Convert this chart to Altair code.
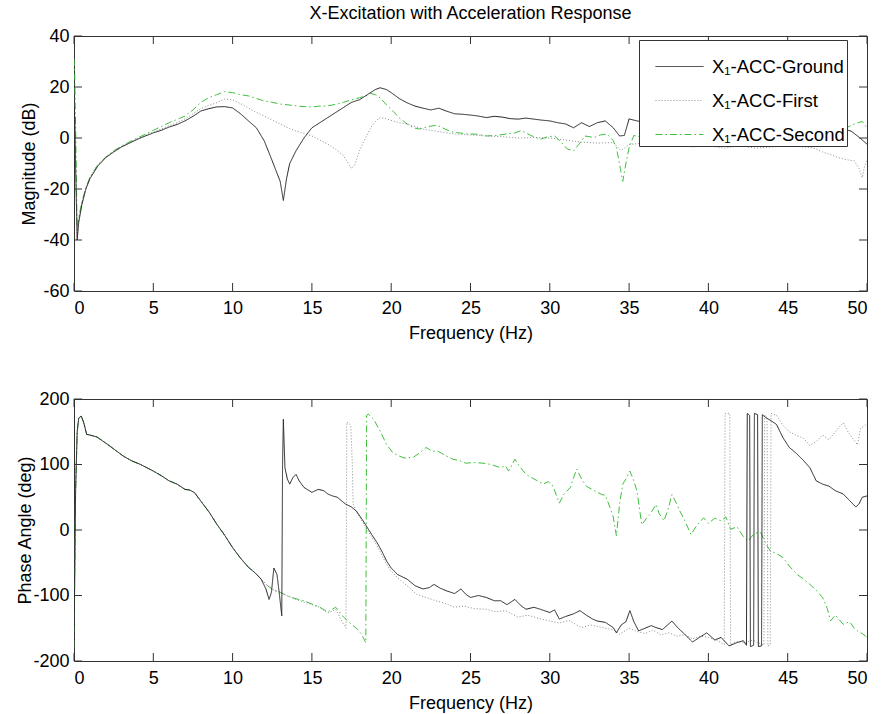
import altair as alt
import pandas as pd

SERIES = ["X₁-ACC-Ground", "X₁-ACC-First", "X₁-ACC-Second"]
COLORS = ["#222222", "#8a8a8a", "#3fbf3f"]
DASHES = [[1, 0], [1, 2], [7, 3, 1.5, 3]]

X_TICKS = [0, 5, 10, 15, 20, 25, 30, 35, 40, 45, 50]
MAG_TICKS = [-60, -40, -20, 0, 20, 40]
PH_TICKS = [-200, -100, 0, 100, 200]

# ---------------- Magnitude (dB) ----------------
mag_ground_f = [0.0, 0.05, 0.1, 0.2, 0.3, 0.5, 0.75, 1.0, 1.5, 2.0, 2.5, 3.0, 3.5, 4.0, 4.5, 5.0, 5.5, 6.0, 6.5, 7.0,
                7.5, 8.0, 8.5, 9.0, 9.5, 10.0, 10.5, 11.0, 11.5, 12.0, 12.5, 13.0, 13.2, 13.4, 13.6, 14.0, 14.5, 15.0,
                15.5, 16.0, 16.5, 17.0, 17.5, 18.0, 18.5, 19.0, 19.3, 19.7, 20.0, 20.5, 21.0, 21.5, 22.0, 22.5, 23.0,
                23.5, 24.0, 24.5, 25.0, 25.5, 26.0, 26.5, 27.0, 27.5, 28.0, 28.5, 29.0, 29.5, 30.0, 30.5, 31.0, 31.5,
                32.0, 32.5, 33.0, 33.5, 34.0, 34.4, 34.7, 35.0, 35.3, 36.0, 37.0, 38.0, 39.0, 40.0, 41.0, 42.0, 43.0,
                44.0, 45.0, 46.0, 47.0, 48.0, 48.5, 49.0, 49.5, 50.0]
mag_ground_v = [12, 8, -10, -40, -33, -26, -20, -16, -11, -7.7, -5.5, -3.5, -2, -0.5, 0.8, 2, 3, 4.3, 5.3, 6.7,
                8.5, 10.6, 11.5, 12.2, 12.3, 11.8, 9.5, 6.7, 4, -1.2, -9, -17, -24.5, -16, -10, -5, 0, 4,
                6, 8, 10, 12, 14, 15, 17, 19, 19.7, 19, 17.8, 15.5, 13.8, 12.5, 11.7, 11, 11.7,
                10.5, 9.5, 9.3, 9, 8.6, 8, 8.5, 8.2, 7.6, 7.4, 7.8, 7.4, 7, 6.7, 6, 5.5, 4,
                6, 4.5, 6, 6.7, 4, 0.8, 1, 7.5, 7, 6, 5.5, 6, 5, 5.5, 4.5, 5, 4,
                4.5, 4, 4.5, 4, 3.5, 3.5, 2.7, 0.3, -2.4]

mag_first_f = [0.0, 0.05, 0.1, 0.2, 0.3, 0.5, 0.75, 1.0, 1.5, 2.0, 2.5, 3.0, 3.5, 4.0, 4.5, 5.0, 5.5, 6.0, 6.5, 7.0,
               7.5, 8.0, 8.5, 9.0, 9.5, 10.0, 10.5, 11.0, 11.5, 12.0, 12.5, 13.0, 13.5, 14.0, 14.5, 15.0, 15.5, 16.0,
               16.5, 17.0, 17.3, 17.5, 17.7, 18.0, 18.3, 18.7, 19.0, 19.3, 19.7, 20.1, 20.5, 21.0, 21.5, 22.0, 23.0,
               24.0, 25.0, 26.0, 27.0, 28.0, 29.0, 30.0, 31.0, 32.0, 33.0, 34.0, 34.5, 35.0, 36.0, 37.0, 38.0, 39.0,
               40.0, 41.0, 42.0, 43.0, 44.0, 45.0, 46.0, 46.6, 47.2, 47.7, 48.2, 48.7, 49.2, 49.5, 49.7, 49.85, 50.0]
mag_first_v = [10, 5, -12, -39, -32, -25.5, -19.5, -15.5, -10.5, -7.5, -5.2, -3.3, -1.8, -0.3, 1, 2.3, 3.5, 4.8, 6, 7.5,
               9.5, 11.5, 12.8, 13.8, 15.3, 15, 13.5, 11.8, 10, 8.6, 7, 5.5, 4, 2.7, 1.8, 0.8, -0.8, -2.4,
               -4.5, -7, -10, -12, -10.5, -5, -1, 4, 6.5, 8, 7.5, 6.7, 6, 5.5, 4.5, 3.5, 2.5,
               1.6, 1.2, 0.8, 0.5, 0, 0.2, 0, -0.8, -1.6, -2, -1.8, -5, -2.5, -2, -3, -2.5, -3.5,
               -3, -4, -3, -4, -3.5, -3, -3.5, -3.8, -5.5, -6.5, -7.7, -8.5, -9, -12, -15.6, -11, -9]

mag_second_f = [0.0, 0.05, 0.1, 0.2, 0.3, 0.5, 0.75, 1.0, 1.5, 2.0, 2.5, 3.0, 3.5, 4.0, 4.5, 5.0, 5.5, 6.0, 6.5, 7.0,
                7.5, 8.0, 8.5, 9.0, 9.5, 10.0, 10.5, 11.0, 11.5, 12.0, 12.5, 13.0, 13.5, 14.0, 14.5, 15.0, 15.5, 16.0,
                16.5, 17.0, 17.5, 18.0, 18.4, 18.7, 19.0, 19.3, 19.7, 20.1, 20.5, 21.0, 21.4, 21.8, 22.3, 22.9, 23.4,
                23.8, 24.3, 24.8, 25.4, 26.0, 26.6, 27.3, 27.8, 28.2, 28.8, 29.4, 29.9, 30.3, 30.7, 31.1, 31.5, 31.9,
                32.2, 32.8, 33.2, 33.6, 34.0, 34.2, 34.45, 34.6, 34.8, 35.0, 35.3, 36.0, 37.0, 38.0, 39.0, 40.0, 41.0,
                42.0, 43.0, 44.0, 45.0, 46.0, 47.0, 48.0, 48.7, 49.2, 49.7, 50.0]
mag_second_v = [31, 25, 5, -36, -31, -25, -19.5, -15.5, -10.5, -7.5, -5, -3.2, -1.5, 0, 1.5, 3, 4.5, 6, 7.3, 8.6,
                11, 14, 15.8, 17, 18.2, 17.8, 17, 16.5, 15.5, 14.5, 14, 13.3, 13, 12.6, 12.3, 12.2, 12.5, 12.6,
                13.2, 14, 15, 15.8, 16.5, 17.5, 17, 15.8, 13, 10.6, 8, 5.5, 4, 3.5, 4.5, 5, 3.5,
                2.4, 2, 1.6, 1.5, 0.8, 1, 1.6, 2, 2.9, 1, -0.5, 0.5, 0.8, -1.5, -4.3, -5, -2,
                0.8, 0.2, 1.2, 1.6, -1, -3.8, -12, -17, -10, -3.8, 1, 0, 1, 0.5, 1, 0, 1,
                0.5, 1.5, 1, 2, 1.5, 2.5, 3, 4, 5.5, 6.5, 4]

# ---------------- Phase (deg) ----------------
ph_ground_f = [0.0, 0.05, 0.1, 0.2, 0.3, 0.45, 0.6, 0.8, 1.0, 1.45, 1.8, 2.1, 2.6, 3.1, 3.6, 4.2, 4.6, 5.0, 5.5, 6.0,
               6.5, 7.0, 7.3, 7.6, 8.0, 8.5, 9.0, 9.5, 10.0, 10.5, 11.0, 11.4, 11.8, 12.1, 12.3, 12.45, 12.6, 12.8,
               12.95, 13.1, 13.15, 13.2, 13.3, 13.45, 13.6, 13.8, 14.0, 14.2, 14.5, 15.0, 15.4, 15.75, 16.0, 16.3,
               16.6, 17.1, 17.5, 17.8, 18.2, 18.5, 18.8, 19.1, 19.4, 19.7, 20.0, 20.4, 21.0, 21.5, 22.0, 22.4, 22.7,
               23.1, 23.5, 24.0, 24.4, 24.7, 25.0, 25.5, 26.0, 26.5, 26.9, 27.3, 27.8, 28.2, 28.5, 29.0, 29.4, 30.0,
               30.3, 30.6, 31.0, 31.5, 31.9, 32.3, 32.7, 33.0, 33.5, 34.0, 34.2, 34.5, 34.8, 35.05, 35.3, 35.6, 36.0,
               36.4, 36.7, 37.1, 37.7, 38.1, 38.5, 39.0, 39.5, 39.9, 40.4, 40.8, 41.3, 41.8, 42.2, 42.4, 42.45, 42.6,
               42.65, 42.85, 42.9, 43.1, 43.15, 43.35, 43.4, 43.6, 44.0, 44.3, 44.7, 45.1, 45.5, 46.0, 46.4, 46.8,
               47.2, 47.6, 48.0, 48.5, 48.9, 49.3, 49.5, 49.7, 50.0]
ph_ground_v = [-179, -60, 60, 150, 171, 174, 165, 146, 145, 142, 136, 131, 122, 113, 106, 100, 95, 90, 83, 75,
               70, 62, 61, 57, 44, 28, 9, -8, -27, -43, -57, -65, -75, -90, -106, -95, -58, -68,
               -98, -131, 100, 169, 95, 78, 70, 80, 85, 75, 65, 57.5, 62, 60, 55, 52,
               50, 40, 35, 29, 15, 3.5, -8, -19, -32, -47, -58, -68, -75, -85, -90, -88, -83,
               -89, -93, -97, -90, -98, -103, -100, -103, -108, -108, -114, -106, -116, -121, -118, -121, -126,
               -122, -136, -132, -128, -123, -130, -136, -139, -141, -149, -157, -145, -140, -123, -140, -154, -150,
               -146, -149, -152, -139, -150, -159, -171, -163, -157, -168, -164, -177, -172, -169, -176, 178, 175,
               -178, -176, 178, 176, -178, -177, 176, 172, 166, 161, 141, 126, 118, 106, 95, 75,
               70, 67, 60, 55, 45, 35, 40, 50, 52]

ph_first_f = [0.0, 0.05, 0.1, 0.2, 0.3, 0.45, 0.6, 0.8, 1.0, 1.45, 1.8, 2.1, 2.6, 3.1, 3.6, 4.2, 4.6, 5.0, 5.5, 6.0,
              6.5, 7.0, 7.3, 7.6, 8.0, 8.5, 9.0, 9.5, 10.0, 10.5, 11.0, 11.4, 11.8, 12.2, 12.6, 13.0, 13.4, 14.0,
              14.5, 15.0, 15.5, 16.0, 16.5, 16.8, 17.0, 17.15, 17.2, 17.45, 17.55, 17.6, 17.8, 18.2, 18.5, 18.8,
              19.1, 19.4, 19.7, 20.0, 20.4, 21.0, 21.6, 22.2, 22.8, 23.4, 24.0, 24.6, 25.2, 26.0, 26.6, 27.2, 28.0,
              28.6, 29.3, 30.0, 30.6, 31.2, 32.0, 32.6, 33.5, 34.0, 34.4, 35.0, 35.5, 36.0, 36.5, 37.0, 37.5, 38.0,
              38.5, 39.0, 39.5, 40.0, 40.5, 41.0, 41.05, 41.35, 41.4, 41.8, 42.3, 42.8, 43.2, 43.5, 43.55, 43.7,
              43.75, 43.9, 43.95, 44.3, 44.7, 45.1, 45.5, 46.0, 46.4, 46.8, 47.2, 47.6, 48.0, 48.5, 48.8, 49.1,
              49.4, 49.6, 50.0]
ph_first_v = [-179, -60, 60, 150, 171, 174, 165, 146, 145, 142, 136, 131, 122, 113, 106, 100, 95, 90, 83, 75,
              70, 62, 61, 57, 44, 28, 9, -8, -27, -43, -57, -65, -75, -85, -92, -95, -100, -106,
              -110, -114, -118, -127, -121, -135, -144, -150, 165, 160, 100, 40, 28, 12, 0, -12,
              -24, -38, -52, -63, -73, -85, -98, -103, -108, -112, -118, -116, -120, -121, -125, -123, -133,
              -130, -135, -139, -142, -138, -149, -145, -150, -152, -159, -150, -155, -158, -153, -160, -157, -162,
              -160, -166, -162, -164, -168, -175, 178, 178, -175, -170, -172, -168, -173, -176, 176, 172,
              -177, -176, 178, 175, 160, 150, 145, 140, 129, 135, 145, 138, 150, 164, 150, 140,
              130, 155, 162]

ph_second_f = [0.0, 0.05, 0.1, 0.2, 0.3, 0.45, 0.6, 0.8, 1.0, 1.45, 1.8, 2.1, 2.6, 3.1, 3.6, 4.2, 4.6, 5.0, 5.5, 6.0,
               6.5, 7.0, 7.3, 7.6, 8.0, 8.5, 9.0, 9.5, 10.0, 10.5, 11.0, 11.4, 11.8, 12.2, 12.6, 13.0, 13.4, 14.0,
               14.5, 15.0, 15.5, 16.0, 16.5, 17.0, 17.5, 17.8, 18.1, 18.4, 18.45, 18.55, 18.9, 19.3, 19.7, 20.1,
               20.5, 20.8, 21.4, 21.8, 22.2, 22.6, 22.9, 23.4, 23.9, 24.3, 24.7, 25.2, 25.8, 26.3, 26.9, 27.2, 27.4,
               27.8, 28.1, 28.5, 29.0, 29.6, 29.9, 30.2, 30.6, 30.9, 31.3, 31.5, 31.7, 32.0, 32.3, 32.8, 33.3, 33.5,
               33.8, 34.0, 34.2, 34.4, 34.6, 34.85, 35.05, 35.3, 35.5, 35.8, 36.1, 36.3, 36.7, 36.9, 37.2, 37.5,
               37.7, 38.0, 38.2, 38.5, 38.9, 39.3, 39.7, 40.0, 40.4, 40.8, 41.1, 41.4, 41.8, 42.2, 42.5, 42.9, 43.3,
               43.6, 43.9, 44.3, 44.7, 45.1, 45.6, 46.0, 46.4, 46.8, 47.2, 47.5, 47.7, 48.0, 48.5, 48.9, 49.2, 49.4,
               49.7, 50.0]
ph_second_v = [-179, -60, 60, 150, 171, 174, 165, 146, 145, 142, 136, 131, 122, 113, 106, 100, 95, 90, 83, 75,
               70, 62, 61, 57, 44, 28, 9, -8, -27, -43, -57, -65, -75, -85, -92, -95, -100, -105,
               -108, -113, -118, -125, -118, -133, -144, -150, -158, -172, 175, 177, 169, 151, 131, 118,
               113, 110, 111, 118, 126, 120, 121, 114, 108, 106, 102, 103, 102, 100, 95, 98, 90,
               108, 97, 85, 78, 70, 74, 67, 41, 55, 65, 80, 93, 78, 67, 60, 54, 53,
               34, 20, -9, 40, 70, 80, 90, 75, 59, 8, 18, 23, 39, 25, 14, 35,
               54, 40, 29, 15, -7, 8, 18.6, 10, 18, 14, 20, 1, 5, -10, -17, -5, -4,
               -20, -32, -36, -42, -55, -68, -75, -83, -92, -103, -120, -139, -130, -144, -140, -150, -154,
               -158, -164]


def frame(pairs):
    rows = []
    for name, fs, vs in pairs:
        for f, v in zip(fs, vs):
            rows.append({"series": name, "f": f, "v": v})
    return pd.DataFrame(rows)


mag_df = frame([(SERIES[2], mag_second_f, mag_second_v), (SERIES[1], mag_first_f, mag_first_v),
                (SERIES[0], mag_ground_f, mag_ground_v)])
ph_df = frame([(SERIES[2], ph_second_f, ph_second_v), (SERIES[1], ph_first_f, ph_first_v),
               (SERIES[0], ph_ground_f, ph_ground_v)])

W = 793
FONT = "Liberation Sans"
FS = 18
AX = "#333333"


def panel(df, yticks, ylabel, height, show_legend, title_pad):
    xs = alt.Scale(domain=[0, 50], nice=False, zero=False)
    ys = alt.Scale(domain=[yticks[0], yticks[-1]], nice=False, zero=False)
    xaxis = alt.Axis(values=X_TICKS, title="Frequency (Hz)", ticks=False, domain=False, grid=False,
                     labelPadding=8, titlePadding=7)
    yaxis = alt.Axis(values=yticks, title=ylabel, ticks=False, domain=False, grid=False,
                     labelPadding=5, titlePadding=title_pad, labelExpr="'' + datum.value")
    if show_legend:
        leg = alt.Legend(title=None, orient="none", legendX=565, legendY=4, fillColor="white",
                         strokeColor=AX, padding=2, symbolType="stroke", symbolSize=2300,
                         symbolStrokeWidth=1, labelFontSize=18.5, labelFont=FONT, labelColor="black",
                         rowPadding=0, labelLimit=300, labelOffset=8, symbolOffset=14)
        col = alt.Color("series:N", scale=alt.Scale(domain=SERIES, range=COLORS), legend=leg)
        dash = alt.StrokeDash("series:N", scale=alt.Scale(domain=SERIES, range=DASHES), legend=leg)
    else:
        col = alt.Color("series:N", scale=alt.Scale(domain=SERIES, range=COLORS), legend=None)
        dash = alt.StrokeDash("series:N", scale=alt.Scale(domain=SERIES, range=DASHES), legend=None)

    lines = alt.Chart(df).mark_line(strokeWidth=1, clip=True).encode(
        x=alt.X("f:Q", scale=xs, axis=xaxis),
        y=alt.Y("v:Q", scale=ys, axis=yaxis),
        color=col, strokeDash=dash,
    )
    xt = pd.DataFrame({"f": X_TICKS})
    yt = pd.DataFrame({"v": yticks})
    tb = alt.Chart(xt).mark_rule(color=AX, strokeWidth=1).encode(
        x=alt.X("f:Q", scale=xs, axis=xaxis), y=alt.value(0), y2=alt.value(8))
    bb = alt.Chart(xt).mark_rule(color=AX, strokeWidth=1).encode(
        x=alt.X("f:Q", scale=xs, axis=xaxis), y=alt.value(height - 8), y2=alt.value(height))
    lt = alt.Chart(yt).mark_rule(color=AX, strokeWidth=1).encode(
        y=alt.Y("v:Q", scale=ys, axis=yaxis), x=alt.value(0), x2=alt.value(8))
    rt = alt.Chart(yt).mark_rule(color=AX, strokeWidth=1).encode(
        y=alt.Y("v:Q", scale=ys, axis=yaxis), x=alt.value(W - 8), x2=alt.value(W))
    return alt.layer(lines, tb, bb, lt, rt).properties(width=W, height=height)


top = panel(mag_df, MAG_TICKS, "Magnitude (dB)", 255, True, 4).properties(
    title=alt.TitleParams("X-Excitation with Acceleration Response", anchor="middle", frame="group",
                          fontSize=FS, font=FONT, fontWeight="normal", color="black", offset=4))
bottom = panel(ph_df, PH_TICKS, "Phase Angle (deg)", 262, False, -2)

chart = alt.vconcat(top, bottom, spacing=108, bounds="flush").properties(
    padding={"left": 16, "top": 4, "right": 10, "bottom": 4}, background="white"
).configure_view(stroke=AX, strokeWidth=1).configure_axis(
    labelFont=FONT, labelFontSize=FS, labelColor="black", titleFont=FONT, titleFontSize=FS,
    titleFontWeight="normal", titleColor="black"
)

chart.save("out.html", embed_options={"renderer": "svg", "actions": False})
